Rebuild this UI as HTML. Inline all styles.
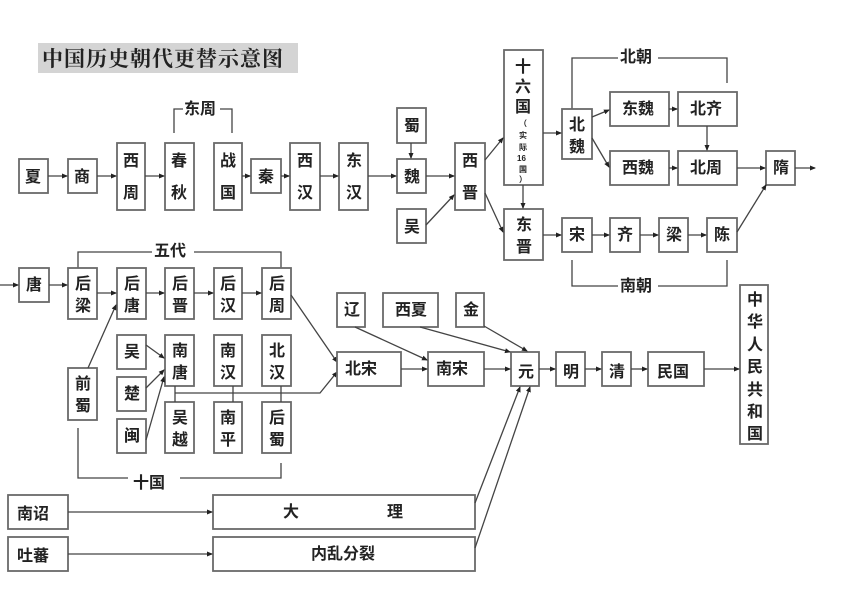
<!DOCTYPE html>
<html><head><meta charset="utf-8"><style>
html,body{margin:0;padding:0;background:#fff;}
svg{display:block;}
text{font-family:"Liberation Sans","Noto Sans CJK SC",sans-serif;fill:#222;font-size:16px;font-weight:bold;}
.b{fill:#fff;stroke:#6a6a6a;stroke-width:1.8;}
.l{stroke:#444;stroke-width:1.3;fill:none;}
</style></head><body>
<svg width="853" height="605" viewBox="0 0 853 605" xmlns="http://www.w3.org/2000/svg">
<defs><marker id="a" markerWidth="6" markerHeight="6" refX="5" refY="3" orient="auto" markerUnits="userSpaceOnUse"><path d="M0,0.5 L6,3 L0,5.5z" fill="#222"/></marker></defs>
<rect x="38" y="43" width="260" height="30" fill="#d4d4d4"/>
<text x="42" y="66" style="font-size:21px;font-weight:bold;font-family:'Noto Serif CJK SC','Noto Sans CJK SC',serif;letter-spacing:1px">中国历史朝代更替示意图</text>

<path class="l" d="M174,133 V109 H183 M220,109 H232 V133"/>
<text x="184" y="114">东周</text>
<path class="l" d="M572,109 V58 H618 M658,58 H727 V83"/>
<text x="620" y="62">北朝</text>
<path class="l" d="M572,260 V286 H618 M658,286 H727 V260"/>
<text x="620" y="291">南朝</text>
<path class="l" d="M78,268 V252 H152 M194,252 H281 V268"/>
<text x="154" y="256">五代</text>
<path class="l" d="M78,428 V478 H128 M180,478 H281 V463"/>
<text x="133" y="488">十国</text>

<rect class="b" x="19" y="159" width="29" height="34"/><text x="25" y="182">夏</text>
<rect class="b" x="68" y="159" width="29" height="34"/><text x="74" y="182">商</text>
<rect class="b" x="117" y="143" width="28" height="67"/><text x="123" y="166">西</text><text x="123" y="198">周</text>
<rect class="b" x="165" y="143" width="29" height="67"/><text x="171" y="166">春</text><text x="171" y="198">秋</text>
<rect class="b" x="214" y="143" width="28" height="67"/><text x="220" y="166">战</text><text x="220" y="198">国</text>
<rect class="b" x="251" y="159" width="30" height="34"/><text x="258" y="182">秦</text>
<rect class="b" x="290" y="143" width="30" height="67"/><text x="297" y="166">西</text><text x="297" y="198">汉</text>
<rect class="b" x="339" y="143" width="29" height="67"/><text x="346" y="166">东</text><text x="346" y="198">汉</text>
<rect class="b" x="397" y="108" width="29" height="35"/><text x="404" y="131">蜀</text>
<rect class="b" x="397" y="159" width="29" height="34"/><text x="404" y="182">魏</text>
<rect class="b" x="397" y="209" width="29" height="34"/><text x="404" y="232">吴</text>
<rect class="b" x="455" y="143" width="30" height="67"/><text x="462" y="166">西</text><text x="462" y="198">晋</text>
<rect class="b" x="504" y="50" width="39" height="135"/>
<text x="515" y="72">十</text><text x="515" y="92">六</text><text x="515" y="112">国</text>
<text x="519" y="126" style="font-size:8px">（</text><text x="519" y="138" style="font-size:8px">实</text><text x="519" y="150" style="font-size:8px">际</text><text x="517" y="161" style="font-size:8px">16</text><text x="519" y="172" style="font-size:8px">国</text><text x="519" y="182" style="font-size:8px">）</text>
<rect class="b" x="504" y="209" width="39" height="51"/><text x="516" y="230">东</text><text x="516" y="252">晋</text>
<rect class="b" x="562" y="109" width="30" height="50"/><text x="569" y="130">北</text><text x="569" y="152">魏</text>
<rect class="b" x="610" y="92" width="59" height="34"/><text x="622" y="114">东魏</text>
<rect class="b" x="678" y="92" width="59" height="34"/><text x="690" y="114">北齐</text>
<rect class="b" x="610" y="151" width="59" height="34"/><text x="622" y="173">西魏</text>
<rect class="b" x="678" y="151" width="59" height="34"/><text x="690" y="173">北周</text>
<rect class="b" x="766" y="151" width="29" height="34"/><text x="773" y="173">隋</text>
<rect class="b" x="562" y="218" width="30" height="34"/><text x="569" y="240">宋</text>
<rect class="b" x="610" y="218" width="30" height="34"/><text x="617" y="240">齐</text>
<rect class="b" x="659" y="218" width="29" height="34"/><text x="666" y="240">梁</text>
<rect class="b" x="707" y="218" width="30" height="34"/><text x="714" y="240">陈</text>

<path class="l" marker-end="url(#a)" d="M48,176 H67"/>
<path class="l" marker-end="url(#a)" d="M97,176 H116"/>
<path class="l" marker-end="url(#a)" d="M145,176 H164"/>
<path class="l" marker-end="url(#a)" d="M242,176 H250"/>
<path class="l" marker-end="url(#a)" d="M281,176 H289"/>
<path class="l" marker-end="url(#a)" d="M320,176 H338"/>
<path class="l" marker-end="url(#a)" d="M368,176 H396"/>
<path class="l" marker-end="url(#a)" d="M411,143 V158"/>
<path class="l" marker-end="url(#a)" d="M426,176 H454"/>
<path class="l" marker-end="url(#a)" d="M426,225 L454,195"/>
<path class="l" marker-end="url(#a)" d="M485,160 L503,138"/>
<path class="l" marker-end="url(#a)" d="M485,193 L503,232"/>
<path class="l" marker-end="url(#a)" d="M523,185 V208"/>
<path class="l" marker-end="url(#a)" d="M543,133 H561"/>
<path class="l" marker-end="url(#a)" d="M592,117 L609,110"/>
<path class="l" marker-end="url(#a)" d="M592,138 L609,167"/>
<path class="l" marker-end="url(#a)" d="M669,109 H677"/>
<path class="l" marker-end="url(#a)" d="M669,168 H677"/>
<path class="l" marker-end="url(#a)" d="M707,126 V150"/>
<path class="l" marker-end="url(#a)" d="M737,168 H765"/>
<path class="l" marker-end="url(#a)" d="M795,168 H815"/>
<path class="l" marker-end="url(#a)" d="M543,235 H561"/>
<path class="l" marker-end="url(#a)" d="M592,235 H609"/>
<path class="l" marker-end="url(#a)" d="M640,235 H658"/>
<path class="l" marker-end="url(#a)" d="M688,235 H706"/>
<path class="l" marker-end="url(#a)" d="M737,232 L766,185"/>

<rect class="b" x="19" y="268" width="30" height="34"/><text x="26" y="290">唐</text>
<rect class="b" x="68" y="268" width="29" height="51"/><text x="75" y="289">后</text><text x="75" y="311">梁</text>
<rect class="b" x="117" y="268" width="29" height="51"/><text x="124" y="289">后</text><text x="124" y="311">唐</text>
<rect class="b" x="165" y="268" width="29" height="51"/><text x="172" y="289">后</text><text x="172" y="311">晋</text>
<rect class="b" x="214" y="268" width="28" height="51"/><text x="220" y="289">后</text><text x="220" y="311">汉</text>
<rect class="b" x="262" y="268" width="29" height="51"/><text x="269" y="289">后</text><text x="269" y="311">周</text>
<rect class="b" x="68" y="368" width="29" height="52"/><text x="75" y="389">前</text><text x="75" y="411">蜀</text>
<rect class="b" x="117" y="335" width="29" height="34"/><text x="124" y="357">吴</text>
<rect class="b" x="117" y="377" width="29" height="34"/><text x="124" y="399">楚</text>
<rect class="b" x="117" y="419" width="29" height="34"/><text x="124" y="441">闽</text>
<rect class="b" x="165" y="335" width="29" height="51"/><text x="172" y="356">南</text><text x="172" y="378">唐</text>
<rect class="b" x="214" y="335" width="28" height="51"/><text x="220" y="356">南</text><text x="220" y="378">汉</text>
<rect class="b" x="262" y="335" width="29" height="51"/><text x="269" y="356">北</text><text x="269" y="378">汉</text>
<rect class="b" x="165" y="402" width="29" height="51"/><text x="172" y="423">吴</text><text x="172" y="445">越</text>
<rect class="b" x="214" y="402" width="28" height="51"/><text x="220" y="423">南</text><text x="220" y="445">平</text>
<rect class="b" x="262" y="402" width="29" height="51"/><text x="269" y="423">后</text><text x="269" y="445">蜀</text>

<path class="l" marker-end="url(#a)" d="M0,285 H18"/>
<path class="l" marker-end="url(#a)" d="M49,285 H67"/>
<path class="l" marker-end="url(#a)" d="M97,293 H116"/>
<path class="l" marker-end="url(#a)" d="M146,293 H164"/>
<path class="l" marker-end="url(#a)" d="M194,293 H213"/>
<path class="l" marker-end="url(#a)" d="M242,293 H261"/>
<path class="l" marker-end="url(#a)" d="M88,368 L116,305"/>
<path class="l" marker-end="url(#a)" d="M146,345 L164,358"/>
<path class="l" marker-end="url(#a)" d="M146,388 L164,370"/>
<path class="l" marker-end="url(#a)" d="M146,440 L164,377"/>
<path class="l" d="M175,386 V402 M233,386 V402 M281,386 V402"/>
<path class="l" marker-end="url(#a)" d="M175,393 H320 L337,372"/>
<path class="l" marker-end="url(#a)" d="M291,295 L337,362"/>

<rect class="b" x="337" y="293" width="28" height="34"/><text x="344" y="315">辽</text>
<rect class="b" x="383" y="293" width="55" height="34"/><text x="395" y="315">西夏</text>
<rect class="b" x="456" y="293" width="28" height="34"/><text x="463" y="315">金</text>
<rect class="b" x="337" y="352" width="64" height="34"/><text x="345" y="374">北宋</text>
<rect class="b" x="428" y="352" width="56" height="34"/><text x="436" y="374">南宋</text>
<rect class="b" x="511" y="352" width="28" height="34"/><text x="518" y="377">元</text>
<rect class="b" x="556" y="352" width="29" height="34"/><text x="563" y="377">明</text>
<rect class="b" x="602" y="352" width="29" height="34"/><text x="609" y="377">清</text>
<rect class="b" x="648" y="352" width="56" height="34"/><text x="657" y="377">民国</text>
<rect class="b" x="740" y="285" width="28" height="159"/>
<text x="747" y="305">中</text><text x="747" y="327">华</text><text x="747" y="350">人</text><text x="747" y="372">民</text><text x="747" y="395">共</text><text x="747" y="417">和</text><text x="747" y="439">国</text>

<path class="l" marker-end="url(#a)" d="M355,327 L427,360"/>
<path class="l" marker-end="url(#a)" d="M420,327 L510,352"/>
<path class="l" marker-end="url(#a)" d="M484,326 L527,351"/>
<path class="l" marker-end="url(#a)" d="M401,369 H427"/>
<path class="l" marker-end="url(#a)" d="M484,369 H510"/>
<path class="l" marker-end="url(#a)" d="M539,369 H555"/>
<path class="l" marker-end="url(#a)" d="M585,369 H601"/>
<path class="l" marker-end="url(#a)" d="M631,369 H647"/>
<path class="l" marker-end="url(#a)" d="M704,369 H739"/>

<rect class="b" x="8" y="495" width="60" height="34"/><text x="17" y="519">南诏</text>
<rect class="b" x="8" y="537" width="60" height="34"/><text x="17" y="561">吐蕃</text>
<rect class="b" x="213" y="495" width="262" height="34"/><text x="283" y="517">大</text><text x="387" y="517">理</text>
<rect class="b" x="213" y="537" width="262" height="34"/><text x="311" y="559">内乱分裂</text>
<path class="l" marker-end="url(#a)" d="M68,512 H212"/>
<path class="l" marker-end="url(#a)" d="M68,554 H212"/>
<path class="l" marker-end="url(#a)" d="M475,503 L520,387"/>
<path class="l" marker-end="url(#a)" d="M475,548 L530,387"/>
</svg>
</body></html>
